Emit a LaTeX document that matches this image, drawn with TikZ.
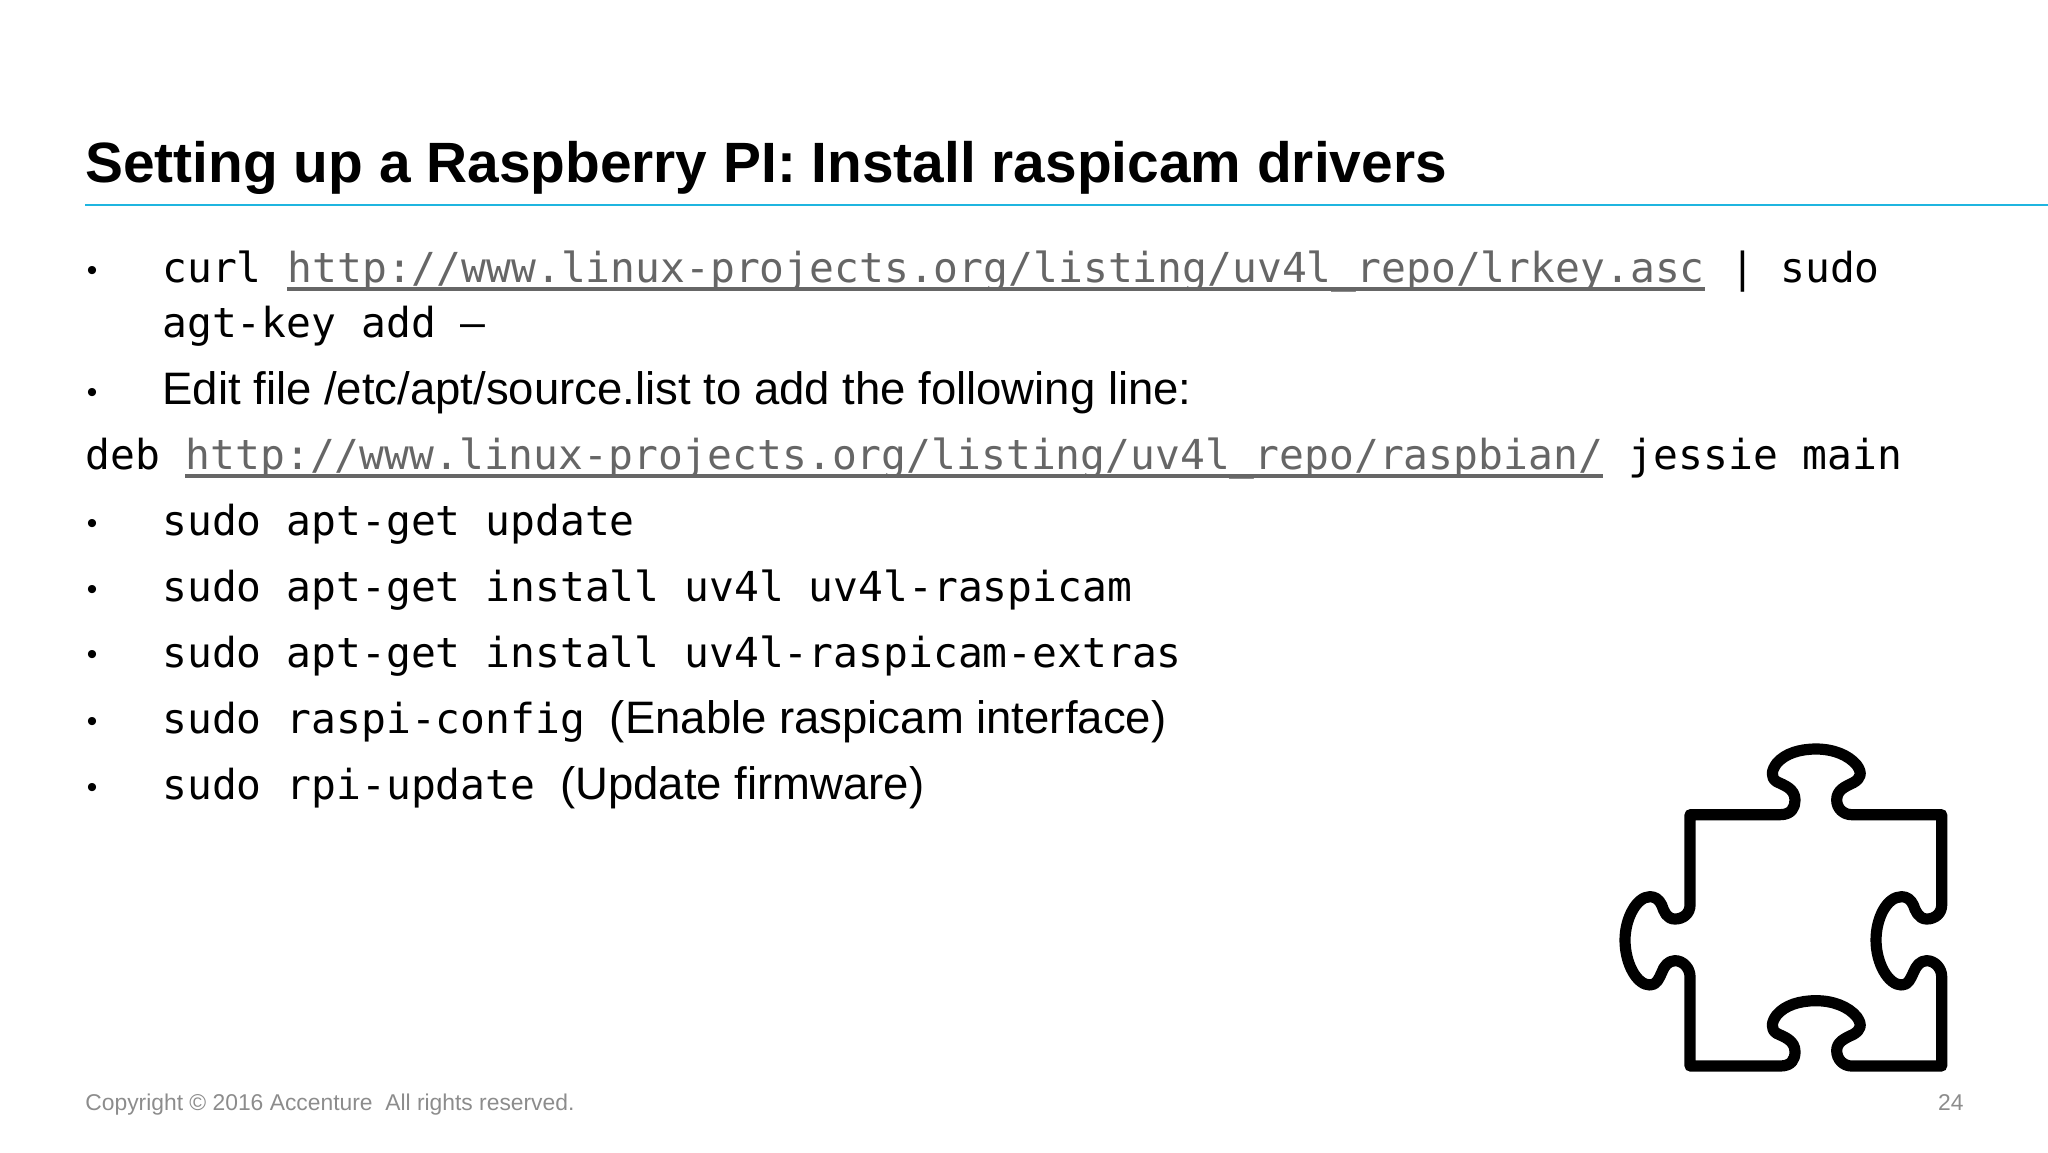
\documentclass[tikz,border=0pt]{standalone}
\usepackage{fontspec}
\usetikzlibrary{calc}
\setmainfont{Liberation Sans}
\setmonofont{DejaVu Sans Mono}
\definecolor{rule}{HTML}{1FB5E0}
\definecolor{linkgray}{HTML}{666666}
\definecolor{footgray}{HTML}{8C8C8C}
\tikzstyle{line}=[anchor=base west,inner sep=0pt,font=\fontsize{22.75}{26}\selectfont]
\tikzstyle{code}=[line,font=\fontsize{20.65}{24}\selectfont\ttfamily]
\tikzstyle{link}=[code,text=linkgray]
\tikzstyle{ul}=[linkgray,line width=1.6pt]
\tikzstyle{bull}=[anchor=base,inner sep=0pt,font=\fontsize{15}{17}\selectfont]
\tikzstyle{foot}=[inner sep=0pt,text=footgray,font=\fontsize{11.42}{14}\selectfont]

\begin{document}
\begin{tikzpicture}[x=0.5pt,y=-0.5pt]
\useasboundingbox (0,0) rectangle (2048,1152);
\node[line,font=\fontsize{28.42}{34}\selectfont\bfseries] (title) at (85,182)
   {Setting up a Raspberry PI: Install raspicam drivers};
\coordinate (ruleA) at (85,205);
\coordinate (ruleB) at (2048,205);
\draw [rule, line width=1.3pt] (ruleA) -- (ruleB);
\foreach \n/\y in {a/280,b/402,c/533,d/599,e/664,f/731,g/797}
   \node[bull] (bul\n) at (92,\y) {•};
\node[code] (curl) at (162,282) {curl};
\node[link] (lrkey) at ($(curl.base east)+(24.9,0)$) {http://www.linux-projects.org/listing/uv4l\_repo/lrkey.asc};
\node[code] (sudo) at ($(lrkey.base east)+(24.9,0)$) {| sudo};
\draw [ul] ($(lrkey.base west)+(0,7)$) -- ($(lrkey.base east)+(0,7)$);
\node[code] (key) at (162,337) {agt-key add –};
\node[line] (edit) at (162,404) {Edit file /etc/apt/source.list to add the following line:};
\node[code] (deb) at (85,469) {deb};
\node[link] (repo) at ($(deb.base east)+(24.9,0)$) {http://www.linux-projects.org/listing/uv4l\_repo/raspbian/};
\node[code] (jessie) at ($(repo.base east)+(24.9,0)$) {jessie main};
\draw [ul] ($(repo.base west)+(0,7)$) -- ($(repo.base east)+(0,7)$);
\node[code] (update) at (162,535) {sudo apt-get update};
\node[code] (install) at (162,601) {sudo apt-get install uv4l uv4l-raspicam};
\node[code] (extras) at (162,667) {sudo apt-get install uv4l-raspicam-extras};
\node[code] (config) at (162,733) {sudo raspi-config {\rmfamily\fontsize{22.75}{26}\selectfont (Enable raspicam interface)}};
\node[code] (fw) at (162,799) {sudo rpi-update {\rmfamily\fontsize{22.75}{26}\selectfont (Update firmware)}};
\node[foot,anchor=base west] (copy) at (85,1110) {Copyright © 2016 Accenture\ \ All rights reserved.};
\node[foot,anchor=base east] (page) at (1964,1110) {24};
\begin{scope}[shift={(1580,720)},x=0.16667pt,y=-0.16667pt]
\draw [line width=5.6pt, line join=round]
   (330,284) -- (600,284)
   .. controls (635,284) and (645,262) .. (645,240)
   .. controls (645,205) and (610,195) .. (590,185)
   .. controls (570,172) and (575,150) .. (590,130)
   .. controls (615,100) and (660,87) .. (708,87)
   .. controls (760,87) and (805,105) .. (830,135)
   .. controls (848,160) and (842,175) .. (820,188)
   .. controls (795,200) and (770,210) .. (770,240)
   .. controls (770,265) and (790,284) .. (815,284)
   -- (1085,284) -- (1085,555)
   .. controls (1085,580) and (1065,597) .. (1040,597)
   .. controls (1015,597) and (1005,570) .. (1000,555)
   .. controls (992,538) and (980,530) .. (965,530)
   .. controls (920,530) and (888,595) .. (888,660)
   .. controls (888,730) and (925,795) .. (965,795)
   .. controls (985,795) and (992,775) .. (1000,758)
   .. controls (1008,738) and (1020,722) .. (1040,722)
   .. controls (1065,722) and (1085,745) .. (1085,770)
   -- (1085,1038) -- (815,1038)
   .. controls (790,1038) and (770,1018) .. (770,992)
   .. controls (770,965) and (795,955) .. (820,943)
   .. controls (842,930) and (848,915) .. (830,890)
   .. controls (805,860) and (760,842) .. (708,842)
   .. controls (660,842) and (615,855) .. (590,885)
   .. controls (575,905) and (570,927) .. (590,940)
   .. controls (610,950) and (645,960) .. (645,995)
   .. controls (645,1018) and (635,1038) .. (600,1038)
   -- (330,1038) -- (330,770)
   .. controls (330,745) and (310,722) .. (285,722)
   .. controls (265,722) and (252,738) .. (245,758)
   .. controls (237,775) and (230,795) .. (210,795)
   .. controls (170,795) and (135,730) .. (135,660)
   .. controls (135,595) and (170,530) .. (210,530)
   .. controls (225,530) and (237,538) .. (245,555)
   .. controls (252,575) and (260,597) .. (285,597)
   .. controls (310,597) and (330,580) .. (330,555)
   -- cycle;
\end{scope}
\end{tikzpicture}
\end{document}
